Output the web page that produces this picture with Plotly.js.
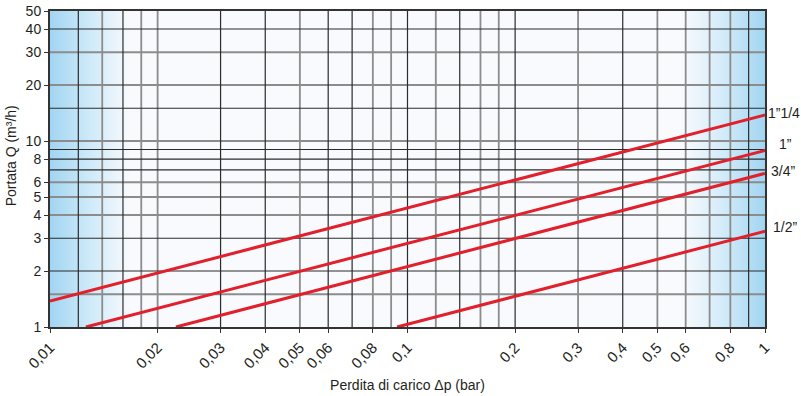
<!DOCTYPE html>
<html>
<head>
<meta charset="utf-8">
<script src="https://cdn.plot.ly/plotly-3.0.1.min.js"></script>
<style>html,body{margin:0;padding:0;background:#fff;}#chart{width:801px;height:396px;}</style>
</head>
<body>
<div id="chart"></div>
<script>
// Tick values and labels
const dpTickVals = [0.01, 0.02, 0.03, 0.04, 0.05, 0.06, 0.08, 0.1, 0.2, 0.3, 0.4, 0.5, 0.6, 0.8, 1];
const dpTickText = ['0,01', '0,02', '0,03', '0,04', '0,05', '0,06', '0,08', '0,1', '0,2', '0,3', '0,4', '0,5', '0,6', '0,8', '1'];
const qTickVals = [1, 2, 3, 4, 5, 6, 8, 10, 20, 30, 40, 50];
const qTickText = ['1', '2', '3', '4', '5', '6', '8', '10', '20', '30', '40', '50'];

// Grid lines (dark and grey)
const dpGridDark = [0.012, 0.016, 0.03, 0.04, 0.06, 0.07, 0.1, 0.14, 0.2, 0.4, 0.9];
const dpGridGrey = [0.014, 0.018, 0.02, 0.05, 0.08, 0.09, 0.12, 0.16, 0.18, 0.3, 0.5, 0.6, 0.7, 0.8];
const qGridDark = [40, 15, 9, 8, 7, 3, 2];
const qGridGrey = [30, 20, 10, 6, 5, 4, 1.5];

// Series: valve sizes
const sizeNames = ['1\u201d1/4', '1\u201d', '3/4\u201d', '1/2\u201d'];
const dp_114 = [0.01, 1];     const q_114 = [1.38, 13.8];
const dp_1   = [0.0126, 1];   const q_1   = [1, 8.9];
const dp_34  = [0.0225, 1];   const q_34  = [1, 6.7];
const dp_12  = [0.0935, 1];   const q_12  = [1, 3.27];

const seriesDp = [dp_114, dp_1, dp_34, dp_12];
const seriesQ = [q_114, q_1, q_34, q_12];
const labelShift = [1, 12, 4, 6];
const labelYShift = [2, 6, 2, 4];

const RED = '#e2202b';
const traces = seriesDp.map((dp, i) => ({
  x: dp, y: seriesQ[i], type: 'scatter', mode: 'lines',
  line: {color: RED, width: 3}, hoverinfo: 'skip', showlegend: false, name: sizeNames[i]
}));

const shapes = [];
function vline(v, color, w) {
  shapes.push({type: 'line', xref: 'x', yref: 'paper', x0: v, x1: v, y0: 0, y1: 1,
    line: {color: color, width: w}, layer: 'below'});
}
function hline(v, color, w) {
  shapes.push({type: 'line', xref: 'paper', yref: 'y', y0: v, y1: v, x0: 0, x1: 1,
    line: {color: color, width: w}, layer: 'below'});
}
dpGridGrey.forEach(v => vline(v, '#8c8c8c', 1.8));
qGridGrey.forEach(v => hline(v, '#8c8c8c', 1.8));
dpGridDark.forEach(v => vline(v, '#2b2b2b', 1.2));
qGridDark.forEach(v => hline(v, '#2b2b2b', 1.2));

const FONT = 'Liberation Sans, Arial, sans-serif';
const annotations = sizeNames.map((t, i) => ({
  x: Math.log10(seriesDp[i][seriesDp[i].length - 1]),
  y: Math.log10(seriesQ[i][seriesQ[i].length - 1]),
  xref: 'x', yref: 'y', text: t, showarrow: false,
  xanchor: 'left', yanchor: 'middle', xshift: labelShift[i], yshift: labelYShift[i],
  font: {family: FONT, size: 14, color: '#231f20'}
}));
annotations.push({
  x: -39 / 715, xref: 'paper', xanchor: 'center', y: 0.54, yref: 'paper', yanchor: 'middle',
  text: 'Portata Q (m\u00b3/h)', textangle: -90, showarrow: false,
  font: {family: FONT, size: 14, color: '#231f20'}
});

const svg = '<svg xmlns="http://www.w3.org/2000/svg" width="1000" height="100" viewBox="0 0 1000 100" preserveAspectRatio="none">' +
  '<defs>' +
  '<linearGradient id="gl" x1="0" y1="0" x2="1" y2="0">' +
  '<stop offset="0" stop-color="#a2d5f2"/>' +
  '<stop offset="0.5" stop-color="#cfeaf9"/>' +
  '<stop offset="1" stop-color="#f8fafd"/></linearGradient>' +
  '<linearGradient id="gr" x1="0" y1="0" x2="1" y2="0">' +
  '<stop offset="0" stop-color="#f8fafd"/>' +
  '<stop offset="0.5" stop-color="#d2ebf9"/>' +
  '<stop offset="1" stop-color="#a2d5f2"/></linearGradient>' +
  '</defs>' +
  '<rect x="0" y="0" width="1000" height="100" fill="#f8fafd"/>' +
  '<rect x="0" y="0" width="112" height="100" fill="url(#gl)"/>' +
  '<rect x="885" y="0" width="115" height="100" fill="url(#gr)"/>' +
  '</svg>';
const imgSrc = 'data:image/svg+xml;charset=utf-8,' + encodeURIComponent(svg);

const layout = {
  width: 801, height: 396,
  margin: {l: 50, r: 36, t: 11, b: 69, pad: 0},
  paper_bgcolor: '#ffffff', plot_bgcolor: '#f8fafd',
  font: {family: FONT, size: 14, color: '#231f20'},
  showlegend: false,
  xaxis: {
    type: 'log', range: [-2, 0], tickmode: 'array', tickvals: dpTickVals, ticktext: dpTickText,
    tickangle: -45, showgrid: false, zeroline: false,
    showline: true, linecolor: '#333333', linewidth: 2, mirror: true,
    ticks: 'outside', ticklen: 4, tickcolor: '#333333', tickwidth: 1,
    tickfont: {family: FONT, size: 15, color: '#231f20'},
    title: {text: 'Perdita di carico \u0394p (bar)', font: {family: FONT, size: 14, color: '#231f20'}, standoff: 10},
    automargin: false
  },
  yaxis: {
    type: 'log', range: [0, Math.log10(50)], tickmode: 'array', tickvals: qTickVals, ticktext: qTickText,
    showgrid: false, zeroline: false,
    showline: true, linecolor: '#333333', linewidth: 2, mirror: true,
    ticks: 'outside', ticklen: 4, tickcolor: '#333333', tickwidth: 1,
    tickfont: {family: FONT, size: 14, color: '#231f20'},
    automargin: false
  },
  shapes: shapes,
  annotations: annotations,
  images: [{source: imgSrc, xref: 'paper', yref: 'paper', x: 0, y: 1, sizex: 1, sizey: 1,
    sizing: 'stretch', xanchor: 'left', yanchor: 'top', layer: 'below'}]
};

Plotly.newPlot('chart', traces, layout, {staticPlot: true, displayModeBar: false});
</script>
</body>
</html>
